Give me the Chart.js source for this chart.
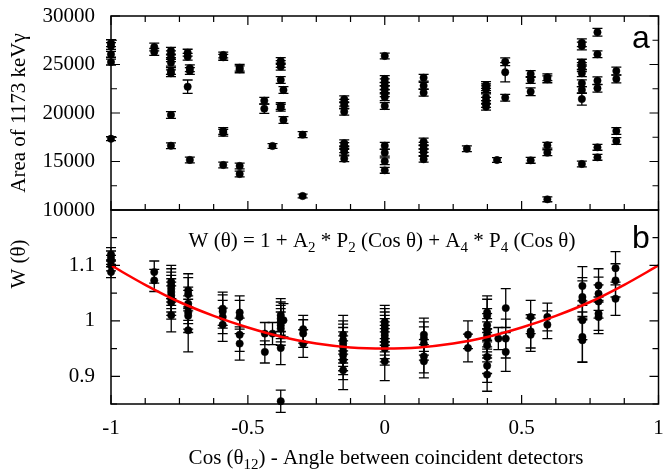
<!DOCTYPE html>
<html>
<head>
<meta charset="utf-8">
<script src="https://cdn.jsdelivr.net/npm/chart.js@4.4.1/dist/chart.umd.min.js"></script>
<style>
  html, body { margin: 0; padding: 0; background: #fff; }
  canvas { display: block; }
</style>
</head>
<body>
<canvas id="myChart" width="663" height="472"></canvas>
<script>
// tick labels
const xTickVals = [-1, -0.5, 0, 0.5, 1];
const areaTickVals = [10000, 15000, 20000, 25000, 30000];
const wTickVals = [0.9, 1, 1.1];

// panel a: area of the 1173 keV peak vs cos(theta12)
const areaCos = [
  -1, -1, -1, -1, -1,
  -0.842, -0.842,
  -0.781, -0.781, -0.781, -0.781, -0.781, -0.781, -0.781, -0.781,
  -0.72, -0.72, -0.72, -0.712, -0.712, -0.712,
  -0.59, -0.59, -0.59, -0.59, -0.59,
  -0.53, -0.53, -0.53, -0.53,
  -0.44, -0.44, -0.41,
  -0.38, -0.38, -0.38, -0.38, -0.38, -0.38, -0.37, -0.37,
  -0.30, -0.30,
  -0.148, -0.148, -0.148, -0.148, -0.148, -0.148, -0.148, -0.148, -0.148,
  0, 0, 0, 0, 0, 0, 0, 0, 0, 0, 0, 0,
  0.142, 0.142, 0.142, 0.142, 0.142, 0.142, 0.142, 0.142,
  0.30,
  0.37, 0.37, 0.37, 0.37, 0.37, 0.37, 0.37,
  0.41, 0.44, 0.44, 0.44,
  0.533, 0.533, 0.533, 0.533,
  0.594, 0.594, 0.594, 0.594, 0.594,
  0.72, 0.72, 0.72, 0.72, 0.72, 0.72, 0.72, 0.72, 0.72, 0.72,
  0.777, 0.777, 0.777, 0.777, 0.777, 0.777,
  0.846, 0.846, 0.846, 0.846
];
const areaVal = [
  27200, 26900, 26050, 25250, 17350,
  26800, 26300,
  26420, 26050, 25640, 25190, 24330, 24090, 19800, 16630,
  26220, 25800, 22710, 24610, 24330, 15160,
  25980, 25740, 18140, 17970, 14640,
  24670, 24500, 14540, 13710,
  21270, 20450, 16600,
  25360, 25050, 24780, 23400, 20720, 20550, 22370, 19280,
  17770, 11440,
  21410, 21060, 20790, 20130, 16880, 16600, 16260, 16010, 15290,
  25880, 23500, 23160, 22780, 22440, 22030, 21620, 20720, 16630, 15910, 15020, 14090,
  23640, 22820, 22100, 17050, 16630, 16290, 15950, 15230,
  16320,
  22880, 22650, 22440, 21620, 21270, 20930, 20650,
  15150, 25290, 24200, 21580,
  24020, 23400, 22200, 15120,
  23680, 23470, 16670, 15910, 11100,
  27250, 26910, 25190, 24850, 24610, 24090, 23060, 22370, 21440, 14740,
  28320, 26050, 23330, 22550, 16460, 15430,
  24330, 23510, 18140, 17110
];
const areaErr = [
  350, 350, 300, 300, 200,
  400, 350,
  350, 350, 350, 350, 350, 350, 350, 300,
  350, 350, 690, 350, 350, 300,
  300, 300, 350, 350, 300,
  350, 350, 300, 300,
  350, 480, 250,
  350, 350, 350, 350, 350, 350, 350, 350,
  300, 200,
  350, 350, 350, 350, 350, 350, 350, 350, 300,
  300, 350, 350, 350, 350, 350, 350, 350, 350, 350, 350, 300,
  350, 350, 350, 350, 350, 350, 350, 300,
  300,
  350, 350, 350, 350, 350, 350, 350,
  250, 400, 1000, 350,
  350, 350, 400, 300,
  350, 350, 300, 300, 250,
  400, 400, 350, 350, 350, 350, 350, 350, 620, 300,
  400, 350, 400, 400, 300, 300,
  400, 400, 350, 350
];

// panel b: normalised angular correlation W(theta)
const wCos = [
  -1, -1, -1, -1, -1,
  -0.842, -0.842,
  -0.78, -0.78, -0.78, -0.78, -0.78, -0.78, -0.78, -0.78,
  -0.718, -0.718, -0.718, -0.718, -0.718, -0.718, -0.718,
  -0.592, -0.592, -0.592, -0.592,
  -0.53, -0.53, -0.53, -0.53,
  -0.438, -0.438, -0.41,
  -0.38, -0.38, -0.38, -0.38, -0.38, -0.38, -0.38, -0.37,
  -0.298, -0.298, -0.298,
  -0.152, -0.152, -0.152, -0.152, -0.152, -0.152, -0.152, -0.152,
  0, 0, 0, 0, 0, 0, 0, 0, 0, 0,
  0.143, 0.143, 0.143, 0.143, 0.143,
  0.304, 0.304,
  0.374, 0.374, 0.374, 0.374, 0.374, 0.374, 0.374, 0.374, 0.374, 0.374,
  0.415, 0.442, 0.442, 0.442,
  0.533, 0.533, 0.533,
  0.594, 0.594,
  0.722, 0.722, 0.722, 0.722, 0.722, 0.722,
  0.781, 0.781, 0.781, 0.781, 0.781,
  0.843, 0.843, 0.843
];
const wVal = [
  1.120, 1.114, 1.108, 1.100, 1.088,
  1.088, 1.073,
  1.070, 1.064, 1.058, 1.052, 1.046, 1.040, 1.033, 1.010,
  1.055, 1.048, 1.031, 1.025, 1.015, 1.009, 0.983,
  1.022, 1.017, 1.007, 0.993,
  1.015, 1.007, 0.975, 0.959,
  0.977, 0.944, 0.977,
  1.010, 1.004, 0.998, 0.992, 0.986, 0.951, 0.855, 1.001,
  0.985, 0.977, 0.959,
  0.975, 0.965, 0.959, 0.953, 0.945, 0.938, 0.929, 0.911,
  0.998, 0.992, 0.986, 0.980, 0.974, 0.968, 0.962, 0.956, 0.950, 0.927,
  0.975, 0.968, 0.959, 0.936, 0.927,
  0.975, 0.951,
  1.015, 1.009, 0.992, 0.983, 0.974, 0.968, 0.956, 0.935, 0.919, 0.903,
  0.968, 1.023, 0.968, 0.944,
  1.007, 0.981, 0.975,
  1.007, 0.993,
  1.063, 1.043, 1.037, 1.001, 0.971, 0.965,
  1.064, 1.049, 1.035, 1.013, 1.007,
  1.095, 1.073, 1.040
];
const wErr = [
  0.012, 0.012, 0.010, 0.010, 0.010,
  0.020, 0.020,
  0.030, 0.030, 0.030, 0.030, 0.030, 0.030, 0.030, 0.030,
  0.030, 0.030, 0.030, 0.030, 0.030, 0.030, 0.039,
  0.030, 0.030, 0.030, 0.030,
  0.030, 0.030, 0.030, 0.030,
  0.020, 0.020, 0.020,
  0.030, 0.030, 0.030, 0.030, 0.030, 0.030, 0.020, 0.030,
  0.025, 0.025, 0.025,
  0.035, 0.035, 0.035, 0.035, 0.035, 0.035, 0.035, 0.035,
  0.030, 0.030, 0.030, 0.030, 0.030, 0.030, 0.030, 0.030, 0.030, 0.035,
  0.030, 0.030, 0.030, 0.030, 0.030,
  0.025, 0.025,
  0.030, 0.030, 0.030, 0.030, 0.030, 0.030, 0.030, 0.030, 0.030, 0.030,
  0.020, 0.035, 0.035, 0.035,
  0.030, 0.030, 0.030,
  0.025, 0.025,
  0.035, 0.035, 0.035, 0.035, 0.045, 0.040,
  0.030, 0.030, 0.030, 0.030, 0.030,
  0.030, 0.030, 0.030
];

// fitted curve
const fitCos = [-1, -0.875, -0.75, -0.625, -0.5, -0.375, -0.25, -0.125, 0,
  0.125, 0.25, 0.375, 0.5, 0.625, 0.75, 0.875, 1];
const fitW = [1.100, 1.065, 1.034, 1.009, 0.988, 0.971, 0.959, 0.952, 0.950,
  0.952, 0.959, 0.971, 0.988, 1.009, 1.034, 1.065, 1.100];

const serif = '"Liberation Serif", "Times New Roman", serif';

// draws text with subscripts, parts = [[text, isSub], ...]
function drawRich(ctx, parts, x, y, size, align) {
  const subSize = Math.round(size * 0.7);
  let total = 0;
  parts.forEach(p => {
    ctx.font = (p[1] ? subSize : size) + 'px ' + serif;
    total += ctx.measureText(p[0]).width;
  });
  let cx = align === 'center' ? x - total / 2 : x;
  ctx.textAlign = 'left';
  ctx.textBaseline = 'alphabetic';
  parts.forEach(p => {
    ctx.font = (p[1] ? subSize : size) + 'px ' + serif;
    ctx.fillText(p[0], cx, p[1] ? y + 5 : y);
    cx += ctx.measureText(p[0]).width;
  });
}

const errorBars = {
  id: 'errorBars',
  beforeDatasetsDraw(chart) {
    const ctx = chart.ctx;
    const x = chart.scales.x;
    const sets = [
      [chart.scales.yA, areaCos, areaVal, areaErr],
      [chart.scales.yW, wCos, wVal, wErr]
    ];
    ctx.save();
    ctx.strokeStyle = '#000';
    ctx.lineWidth = 1.3;
    sets.forEach(([ys, cs, vs, es]) => {
      cs.forEach((c, i) => {
        const px = x.getPixelForValue(c);
        const y1 = ys.getPixelForValue(vs[i] + es[i]);
        const y2 = ys.getPixelForValue(vs[i] - es[i]);
        ctx.beginPath();
        ctx.moveTo(px, y1); ctx.lineTo(px, y2);
        ctx.moveTo(px - 5, y1); ctx.lineTo(px + 5, y1);
        ctx.moveTo(px - 5, y2); ctx.lineTo(px + 5, y2);
        ctx.stroke();
      });
    });
    ctx.restore();
  }
};

const frame = {
  id: 'frame',
  afterDraw(chart) {
    const ctx = chart.ctx;
    const x = chart.scales.x;
    const yA = chart.scales.yA;
    const yW = chart.scales.yW;
    const l = chart.chartArea.left, r = chart.chartArea.right;
    ctx.save();
    ctx.strokeStyle = '#000';
    ctx.lineWidth = 1.5;
    [yA, yW].forEach(ys => {
      ctx.strokeRect(l, ys.top, r - l, ys.bottom - ys.top);
    });
    ctx.lineWidth = 1.2;
    ctx.beginPath();
    // x ticks
    for (let v = -1; v <= 1.0001; v += 0.125) {
      const px = x.getPixelForValue(v);
      const len = xTickVals.some(t => Math.abs(t - v) < 1e-6) ? 9 : 6;
      ctx.moveTo(px, yA.top); ctx.lineTo(px, yA.top + len);
      ctx.moveTo(px, yA.bottom); ctx.lineTo(px, yA.bottom - len);
      ctx.moveTo(px, yW.bottom); ctx.lineTo(px, yW.bottom - len);
    }
    // y ticks, panel a
    for (let v = 10000; v <= 30000; v += 2500) {
      const py = yA.getPixelForValue(v);
      const len = areaTickVals.includes(v) ? 9 : 6;
      ctx.moveTo(l, py); ctx.lineTo(l + len, py);
      ctx.moveTo(r, py); ctx.lineTo(r - len, py);
    }
    // y ticks, panel b
    for (let k = 0; k <= 7; k++) {
      const v = 0.85 + k * 0.05;
      const py = yW.getPixelForValue(v);
      const len = wTickVals.some(t => Math.abs(t - v) < 1e-6) ? 9 : 6;
      ctx.moveTo(l, py); ctx.lineTo(l + len, py);
      ctx.moveTo(r, py); ctx.lineTo(r - len, py);
    }
    ctx.stroke();

    ctx.fillStyle = '#000';
    // panel letters
    ctx.font = '32px "Liberation Sans", Arial, sans-serif';
    ctx.textAlign = 'left';
    ctx.textBaseline = 'alphabetic';
    ctx.fillText('a', 632, 48);
    ctx.fillText('b', 632, 248);

    // equation
    drawRich(ctx, [['W (θ) = 1 + A', false], ['2', true], [' * P', false], ['2', true],
      [' (Cos θ) + A', false], ['4', true], [' * P', false], ['4', true], [' (Cos θ)', false]],
      382, 247, 21, 'center');

    // x title
    drawRich(ctx, [['Cos (θ', false], ['12', true], [') - Angle between coincident detectors', false]],
      386, 464, 21, 'center');

    // y titles
    ctx.save();
    ctx.translate(25, 113);
    ctx.rotate(-Math.PI / 2);
    drawRich(ctx, [['Area of 1173 keVγ', false]], 0, 0, 21, 'center');
    ctx.restore();
    ctx.save();
    ctx.translate(25, 264);
    ctx.rotate(-Math.PI / 2);
    drawRich(ctx, [['W (θ)', false]], 0, 0, 21, 'center');
    ctx.restore();
    ctx.restore();
  }
};

const tickFont = { family: serif, size: 21 };

function noPad(s) {
  s.paddingLeft = 0; s.paddingRight = 0; s.paddingTop = 0; s.paddingBottom = 0;
}

new Chart(document.getElementById('myChart'), {
  type: 'scatter',
  data: {
    datasets: [
      {
        type: 'line',
        label: 'fit',
        data: fitCos.map((c, i) => ({ x: c, y: fitW[i] })),
        xAxisID: 'x',
        yAxisID: 'yW',
        borderColor: '#ff0000',
        borderWidth: 2.5,
        pointRadius: 0,
        fill: false,
        cubicInterpolationMode: 'monotone',
        order: 0
      },
      {
        label: 'area',
        data: areaCos.map((c, i) => ({ x: c, y: areaVal[i] })),
        xAxisID: 'x',
        yAxisID: 'yA',
        backgroundColor: '#000',
        borderColor: '#000',
        pointRadius: 3.7,
        borderWidth: 0.5,
        clip: false,
        order: 1
      },
      {
        label: 'W',
        data: wCos.map((c, i) => ({ x: c, y: wVal[i] })),
        xAxisID: 'x',
        yAxisID: 'yW',
        backgroundColor: '#000',
        borderColor: '#000',
        pointRadius: 3.7,
        borderWidth: 0.5,
        clip: false,
        order: 1
      }
    ]
  },
  options: {
    responsive: false,
    animation: false,
    layout: { padding: { top: 16, right: 4, left: 0, bottom: 0 } },
    plugins: {
      legend: { display: false },
      tooltip: { enabled: false }
    },
    scales: {
      x: {
        type: 'linear',
        position: 'bottom',
        min: -1,
        max: 1,
        afterBuildTicks: s => { s.ticks = xTickVals.map(v => ({ value: v })); },
        afterFit: s => { s.height = 68; noPad(s); },
        grid: { display: false, drawTicks: false },
        border: { display: false },
        ticks: { font: tickFont, color: '#000', padding: 12, maxRotation: 0,
          callback: v => String(v) }
      },
      yW: {
        type: 'linear',
        position: 'left',
        stack: 'panels',
        stackWeight: 1,
        min: 0.85,
        max: 1.2,
        afterBuildTicks: s => { s.ticks = wTickVals.map(v => ({ value: v })); },
        afterFit: s => { s.width = 111; noPad(s); },
        grid: { display: false, drawTicks: false },
        border: { display: false },
        ticks: { font: tickFont, color: '#000', padding: 16, callback: v => String(v) }
      },
      yA: {
        type: 'linear',
        position: 'left',
        stack: 'panels',
        stackWeight: 1,
        min: 10000,
        max: 30000,
        afterBuildTicks: s => { s.ticks = areaTickVals.map(v => ({ value: v })); },
        afterFit: s => { s.width = 111; noPad(s); },
        grid: { display: false, drawTicks: false },
        border: { display: false },
        ticks: { font: tickFont, color: '#000', padding: 16, callback: v => String(v) }
      }
    }
  },
  plugins: [errorBars, frame]
});
</script>
</body>
</html>
